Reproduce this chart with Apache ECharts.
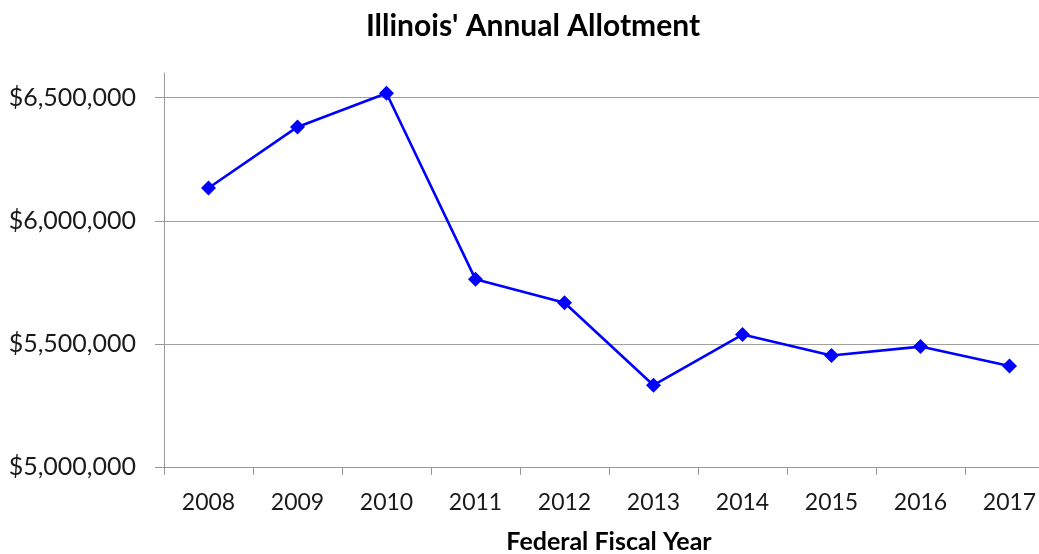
<!DOCTYPE html>
<html>
<head>
<meta charset="utf-8">
<script src="https://cdn.jsdelivr.net/npm/echarts@6/dist/echarts.min.js"></script>
<style>
html,body{margin:0;padding:0;background:#fff;}
#chart{width:1039px;height:554px;}
</style>
</head>
<body>
<div id="chart"></div>
<script>
const categories = ['2008','2009','2010','2011','2012','2013','2014','2015','2016','2017'];
const allotment = [6133000, 6381000, 6518000, 5762000, 5667000, 5332000, 5538000, 5453000, 5489000, 5410000];
const yTicks = [5000000, 5500000, 6000000, 6500000];

const chart = echarts.init(document.getElementById('chart'), null, {renderer: 'canvas'});
const fmt = v => '$' + Math.round(v).toString().replace(/\B(?=(\d{3})+(?!\d))/g, ',');
const FONT = 'Lato';
chart.setOption({
  backgroundColor: '#ffffff',
  animation: false,
  title: {
    text: "Illinois' Annual Allotment",
    left: 528, top: 6, textAlign: 'center',
    textStyle: {fontFamily: FONT, fontWeight: 'bold', fontSize: 30, color: '#000'}
  },
  grid: {left: 164, right: -15, top: 73, bottom: 87, containLabel: false, outerBoundsMode: 'none'},
  xAxis: {
    type: 'category',
    data: categories,
    boundaryGap: true,
    name: 'Federal Fiscal Year',
    nameLocation: 'middle',
    nameGap: 62,
    nameTextStyle: {fontFamily: FONT, fontWeight: 'bold', fontSize: 25, color: '#000'},
    axisLine: {lineStyle: {color: '#999', width: 1}},
    axisTick: {show: true, length: 8, alignWithLabel: false, lineStyle: {color: '#999'}},
    axisLabel: {fontFamily: FONT, fontSize: 23, color: '#1a1a1a', margin: 24},
    splitLine: {show: false}
  },
  yAxis: {
    type: 'value',
    min: 5000000, max: 6600000, interval: 500000,
    axisLine: {show: true, lineStyle: {color: '#999', width: 1}},
    axisTick: {show: true, length: 9, customValues: yTicks, lineStyle: {color: '#999'}},
    axisLabel: {fontFamily: FONT, fontSize: 25, color: '#1a1a1a', margin: 28, customValues: yTicks, formatter: fmt},
    splitLine: {show: true, lineStyle: {color: '#a0a0a0', width: 1}}
  },
  series: [{
    type: 'line',
    data: allotment,
    symbol: 'diamond',
    symbolSize: 15,
    lineStyle: {color: '#0000ff', width: 2.6},
    itemStyle: {color: '#0000ff'}
  }]
});
</script>
</body>
</html>
